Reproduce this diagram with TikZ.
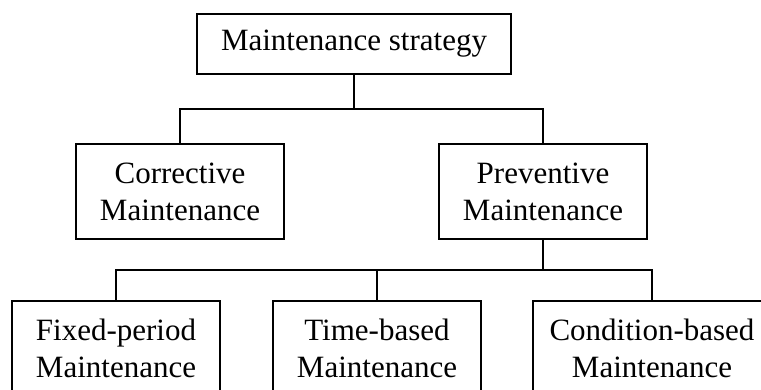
\documentclass[tikz,border=0pt]{standalone}
\usepackage{fontspec}
\setmainfont{Liberation Serif}
\begin{document}
\begin{tikzpicture}[x=1bp,y=-1bp,
  box/.style={draw, line width=1.5bp, minimum width=208bp, minimum height=95bp, align=center, inner sep=0pt,
    font=\fontsize{31bp}{37bp}\selectfont},
  link/.style={line width=1.5bp}]
\useasboundingbox (0,0) rectangle (761,389);
\clip (0,0) rectangle (761,389);
\node[box, minimum width=314bp, minimum height=60bp] (top) at (354,44) {Maintenance strategy};
\node[box] (corr) at (180,191.5) {Corrective\\Maintenance};
\node[box] (prev) at (543,191.5) {Preventive\\Maintenance};
\node[box] (fixed) at (116,348.5) {Fixed-period\\Maintenance};
\node[box] (time) at (377,348.5) {Time-based\\Maintenance};
\node[box, minimum width=238bp] (cond) at (652,348.5) {Condition-based\\Maintenance};
\coordinate (j1) at (354,109);
\coordinate (j2) at (543,270);
\draw[link] (top.south) -- (j1);
\draw[link] (corr.north) |- (j1) -| (prev.north);
\draw[link] (prev.south) -- (j2);
\draw[link] (fixed.north) |- (j2) -| (cond.north);
\draw[link] (time.north) -- (time.north |- j2);
\end{tikzpicture}
\end{document}
